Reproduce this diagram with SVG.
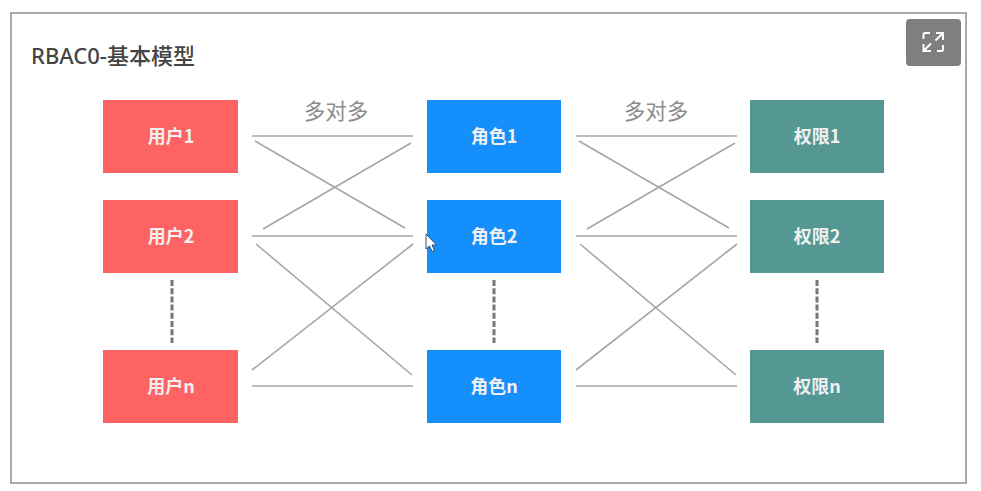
<svg xmlns="http://www.w3.org/2000/svg" width="981" height="491" viewBox="0 0 981 491">
<style>
.frame{fill:#fff;stroke:#aaa;stroke-width:2}
.u{fill:#fe6363}.r{fill:#148ffb}.p{fill:#559893}
.t{font:bold 18px "Noto Sans CJK SC","Noto Sans",sans-serif;fill:#f0f0f0;text-anchor:middle}
.l{font:21.500px "Noto Sans CJK SC","Noto Sans",sans-serif;fill:#8c8c8c;text-anchor:middle}
.c line{stroke:#a6a6a6;stroke-width:1.6}
.d line{stroke:#777;stroke-width:3;stroke-dasharray:6 2.200}
</style>
<rect width="981" height="491" fill="#fff"/>
<rect class="frame" x="11" y="13" width="955" height="470"/>
<text x="31" y="64" font-family="'Noto Sans','Noto Sans CJK SC',sans-serif" font-weight="500" font-size="22" fill="#444">RBAC0-基本模型</text>
<g id="connectors">
<g class="c">
<line x1="252" y1="136" x2="413" y2="136"/><line x1="255" y1="141" x2="405" y2="228"/><line x1="263" y1="229" x2="411" y2="143"/>
<line x1="252" y1="236" x2="413" y2="236"/><line x1="256" y1="244" x2="412" y2="375"/><line x1="252" y1="370" x2="413" y2="244"/><line x1="252" y1="386" x2="413" y2="386"/>
<line x1="576" y1="136" x2="737" y2="136"/><line x1="579" y1="141" x2="729" y2="228"/><line x1="587" y1="229" x2="735" y2="143"/>
<line x1="576" y1="236" x2="737" y2="236"/><line x1="580" y1="244" x2="736" y2="375"/><line x1="576" y1="370" x2="737" y2="244"/><line x1="576" y1="386" x2="737" y2="386"/>
</g>
<g class="d">
<line x1="172" y1="280" x2="172" y2="343"/><line x1="494" y1="280" x2="494" y2="343"/><line x1="817" y1="280" x2="817" y2="343"/>
</g>
</g>
<text class="l" x="336" y="119">多对多</text>
<text class="l" x="656" y="119">多对多</text>
<g id="user1"><rect class="u" x="103" y="100" width="135" height="73"/><text class="t" x="171" y="143">用户1</text></g>
<g id="user2"><rect class="u" x="103" y="200" width="135" height="73"/><text class="t" x="171" y="243">用户2</text></g>
<g id="usern"><rect class="u" x="103" y="350" width="135" height="73"/><text class="t" x="171" y="393">用户n</text></g>
<g id="role1"><rect class="r" x="427" y="100" width="134" height="73"/><text class="t" x="494" y="143">角色1</text></g>
<g id="role2"><rect class="r" x="427" y="200" width="134" height="73"/><text class="t" x="494" y="243">角色2</text></g>
<g id="rolen"><rect class="r" x="427" y="350" width="134" height="73"/><text class="t" x="494" y="393">角色n</text></g>
<g id="perm1"><rect class="p" x="750" y="100" width="134" height="73"/><text class="t" x="817" y="143">权限1</text></g>
<g id="perm2"><rect class="p" x="750" y="200" width="134" height="73"/><text class="t" x="817" y="243">权限2</text></g>
<g id="permn"><rect class="p" x="750" y="350" width="134" height="73"/><text class="t" x="817" y="393">权限n</text></g>
<g id="expand">
<rect x="906" y="19" width="55" height="47" rx="4" fill="#7f7f7f"/>
<path d="M930 33h-5a1.500 1.500 0 0 0-1.500 1.500V39M936 33h7v7M943 45v4.500a1.500 1.500 0 0 1-1.500 1.500H937M931 51h-7.500v-7M942.500 33.500l-7 7M924 50.500l7-7" fill="none" stroke="#fff" stroke-width="2"/>
</g>
<path id="cursor" d="M426 234v15l3.500-3 2.500 5.500 2.500-1-2.500-5.500h4.500z" fill="#fff" stroke="#35506e" stroke-width="1"/>
</svg>
